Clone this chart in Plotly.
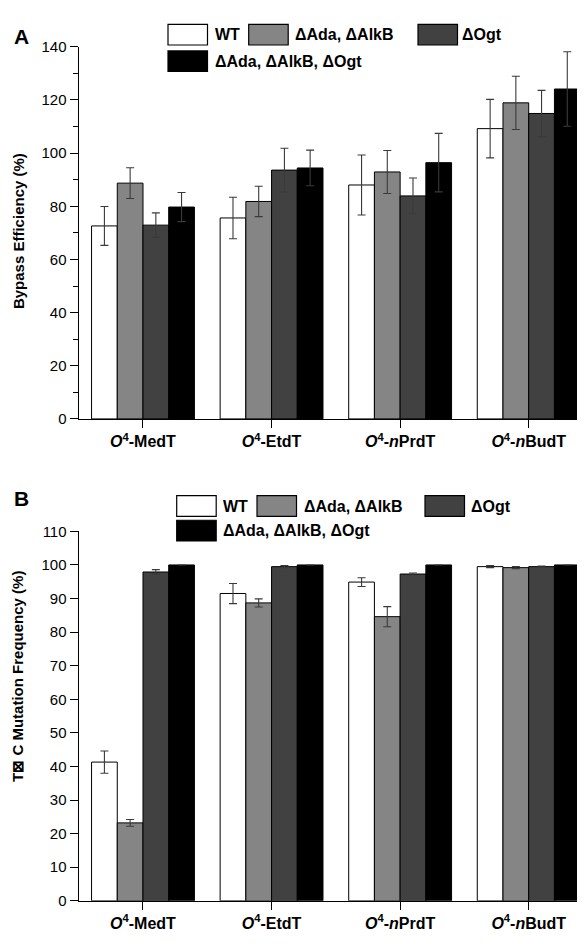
import plotly.graph_objects as go

W, H = 585, 944

# ---------------- data ----------------
categories = ["O4-MedT", "O4-EtdT", "O4-nPrdT", "O4-nBudT"]
tick_labels = [
    "<b><i>O</i><sup>4</sup>-MedT</b>",
    "<b><i>O</i><sup>4</sup>-EtdT</b>",
    "<b><i>O</i><sup>4</sup>-<i>n</i>PrdT</b>",
    "<b><i>O</i><sup>4</sup>-<i>n</i>BudT</b>",
]
series_names = ["WT", "ΔAda, ΔAlkB", "ΔOgt", "ΔAda, ΔAlkB, ΔOgt"]
series_colors = ["#ffffff", "#858585", "#414141", "#000000"]

# Panel A: bypass efficiency (%)
bypass_wt = [72.6, 75.6, 88.0, 109.2]
bypass_ada_alkb = [88.7, 81.8, 92.9, 118.9]
bypass_ogt = [72.9, 93.6, 83.9, 114.9]
bypass_triple = [79.7, 94.4, 96.4, 124.1]
bypass_wt_err = [7.3, 7.8, 11.3, 11.0]
bypass_ada_alkb_err = [5.8, 5.7, 8.1, 10.0]
bypass_ogt_err = [4.6, 8.2, 6.7, 8.7]
bypass_triple_err = [5.5, 6.7, 11.0, 14.0]

# Panel B: T->C mutation frequency (%)
mut_wt = [41.3, 91.5, 94.9, 99.5]
mut_ada_alkb = [23.2, 88.7, 84.6, 99.2]
mut_ogt = [97.9, 99.5, 97.3, 99.5]
mut_triple = [100.0, 100.0, 100.0, 100.0]
mut_wt_err = [3.3, 3.0, 1.3, 0.3]
mut_ada_alkb_err = [1.0, 1.2, 3.0, 0.3]
mut_ogt_err = [0.7, 0.3, 0.3, 0.2]
mut_triple_err = [0.0, 0.0, 0.0, 0.0]

bypass_vals = [bypass_wt, bypass_ada_alkb, bypass_ogt, bypass_triple]
bypass_errs = [bypass_wt_err, bypass_ada_alkb_err, bypass_ogt_err, bypass_triple_err]
mut_vals = [mut_wt, mut_ada_alkb, mut_ogt, mut_triple]
mut_errs = [mut_wt_err, mut_ada_alkb_err, mut_ogt_err, mut_triple_err]

FONT = "Liberation Sans, Arial, sans-serif"


def px(x):
    return x / W


def py(y):
    return 1 - y / H


def bold_font(size):
    return dict(family=FONT, size=size, color="#000000", weight="bold")


fig = go.Figure()

for vals, errs, xa, ya in [(bypass_vals, bypass_errs, "x", "y"), (mut_vals, mut_errs, "x2", "y2")]:
    for name, color, v, e in zip(series_names, series_colors, vals, errs):
        fig.add_trace(go.Bar(
            x=categories, y=v, name=name, xaxis=xa, yaxis=ya,
            marker=dict(color=color, line=dict(color="#000000", width=1)),
            error_y=dict(type="data", array=e, visible=True, color="#3a3a3a",
                         thickness=1.1, width=4),
            showlegend=False,
        ))

x_dom = [px(70.7), 1.0]
line_common = dict(showline=True, linecolor="#000000", linewidth=1.3, showgrid=False,
                   zeroline=False, ticks="outside", tickcolor="#000000", tickwidth=1.2)
ytick_font = dict(family=FONT, size=15, color="#000000")
xtick_font = dict(family=FONT, size=16, color="#000000")

fig.update_layout(
    width=W, height=H,
    margin=dict(l=0, r=0, t=0, b=0),
    paper_bgcolor="#ffffff", plot_bgcolor="#ffffff",
    barmode="group", bargap=0.2, bargroupgap=0,
    font=dict(family=FONT, color="#000000"),
    xaxis=dict(domain=x_dom, anchor="y", tickvals=categories, ticktext=tick_labels,
               ticklen=8, range=[-0.5, 3.5], tickfont=xtick_font, **line_common),
    yaxis=dict(domain=[py(409.3), py(30.3)], anchor="x", range=[0, 140], dtick=20,
               ticklen=8, tickfont=ytick_font,
               minor=dict(dtick=10, ticks="outside", ticklen=5, tickcolor="#000000", tickwidth=1.2),
               **line_common),
    xaxis2=dict(domain=x_dom, anchor="y2", tickvals=categories, ticktext=tick_labels,
                ticklen=8, range=[-0.5, 3.5], tickfont=xtick_font, **line_common),
    yaxis2=dict(domain=[py(900.0), py(523.8)], anchor="x2", range=[0, 110], dtick=10,
                ticklen=8, tickfont=ytick_font, **line_common),
)

annotations = [
    dict(text="A", x=px(4), y=py(20), xanchor="left", yanchor="middle", font=bold_font(21)),
    dict(text="B", x=px(4), y=py(490), xanchor="left", yanchor="middle", font=bold_font(21)),
    dict(text="Bypass Efficiency (%)", x=px(10), y=py(218), textangle=-90,
         xanchor="center", yanchor="middle", font=bold_font(15)),
    dict(text="T\u22a0 C Mutation Frequency (%)", x=px(10), y=py(672), textangle=-90,
         xanchor="center", yanchor="middle", font=bold_font(15)),
]

shapes = []
# custom legends (large swatches as in the reference)
legend_specs = [
    # (box_left_x, text_x, row_center_y) for each series, panel A
    [(160, 204.5, 18), (240.7, 284.5, 18), (410, 452, 18), (160, 204.5, 45)],
    # panel B
    [(168.7, 213.4, 498), (249, 293.7, 498), (417, 461, 498), (168.7, 213.4, 523)],
]
for spec in legend_specs:
    for (bx, tx, cy), name, color in zip(spec, series_names, series_colors):
        shapes.append(dict(type="rect", xref="paper", yref="paper",
                           x0=px(bx), x1=px(bx + 39.5), y0=py(cy + 10.5), y1=py(cy - 10.5),
                           fillcolor=color, line=dict(color="#000000", width=1.2)))
        annotations.append(dict(text=name, x=px(tx), y=py(cy), xanchor="left",
                                yanchor="middle", font=bold_font(16)))

for a in annotations:
    a.setdefault("xref", "paper")
    a.setdefault("yref", "paper")
    a["showarrow"] = False

fig.update_layout(annotations=annotations, shapes=shapes)

fig.write_html("out.html")
